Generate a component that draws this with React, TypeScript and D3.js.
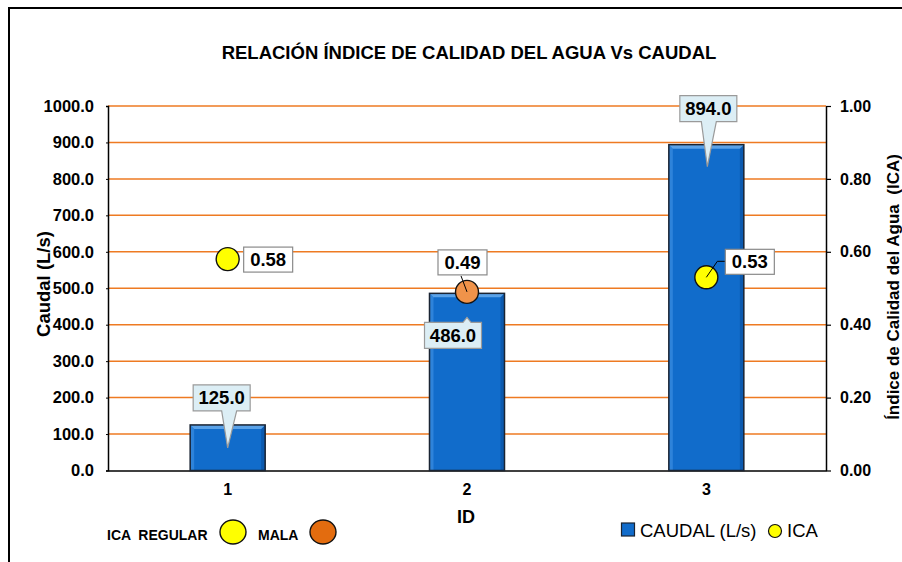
import React from "react";
import * as d3 from "d3";

// chart values
const categories = ["1", "2", "3"];
const caudal = [125.0, 486.0, 894.0];
const ica = [0.58, 0.49, 0.53];
const icaClass = ["REGULAR", "MALA", "REGULAR"];
const leftTicks = [0, 100, 200, 300, 400, 500, 600, 700, 800, 900, 1000];
const rightTicks = [0, 0.2, 0.4, 0.6, 0.8, 1.0];

const FONT = "'Liberation Sans', Arial, sans-serif";
const W = 902,
  H = 562;
const margin = { top: 106, right: 76, bottom: 91.5, left: 108 };

const classColor: Record<string, string> = {
  REGULAR: "#FFFF00",
  MALA: "#F0934A",
};

const App = () => {
  const ref = React.useRef<SVGSVGElement>(null);

  React.useEffect(() => {
    const svg = d3.select(ref.current);
    svg.selectAll("*").remove();

    const x = d3
      .scaleBand()
      .domain(categories)
      .range([margin.left, W - margin.right])
      .paddingInner(0.6866)
      .paddingOuter(0.3433);
    const y = d3
      .scaleLinear()
      .domain([0, 1000])
      .range([H - margin.bottom, margin.top]);
    const y2 = d3
      .scaleLinear()
      .domain([0, 1])
      .range([H - margin.bottom, margin.top]);
    const cx = (c: string) => (x(c) as number) + x.bandwidth() / 2;

    // outer frame
    svg
      .append("rect")
      .attr("x", 9)
      .attr("y", 8)
      .attr("width", 1000)
      .attr("height", 1000)
      .attr("fill", "white")
      .attr("stroke", "#000")
      .attr("stroke-width", 2);

    // title
    svg
      .append("text")
      .attr("x", 469)
      .attr("y", 59)
      .attr("text-anchor", "middle")
      .attr("font-family", FONT)
      .attr("font-weight", "bold")
      .attr("font-size", 18.5)
      .text("RELACIÓN ÍNDICE DE CALIDAD DEL AGUA Vs CAUDAL");

    // gridlines
    svg
      .append("g")
      .selectAll("line")
      .data(leftTicks.filter((d) => d > 0))
      .join("line")
      .attr("x1", margin.left)
      .attr("x2", W - margin.right)
      .attr("y1", (d) => y(d))
      .attr("y2", (d) => y(d))
      .attr("stroke", "#EE7A22")
      .attr("stroke-width", 1.5);

    // left axis
    const gl = svg
      .append("g")
      .attr("transform", `translate(${margin.left},0)`)
      .call(
        d3
          .axisLeft(y)
          .tickValues(leftTicks)
          .tickSize(2)
          .tickPadding(12)
          .tickFormat((d) => d3.format(".1f")(d as number))
      );
    gl.select(".domain").attr("stroke", "#000").attr("stroke-width", 1.5);
    gl.selectAll(".tick line").attr("stroke", "#000");
    gl.selectAll(".tick text")
      .attr("font-family", FONT)
      .attr("font-weight", "bold")
      .attr("font-size", 16.5)
      .attr("fill", "#000");

    // right axis
    const gr = svg
      .append("g")
      .attr("transform", `translate(${W - margin.right},0)`)
      .call(
        d3
          .axisRight(y2)
          .tickValues(rightTicks)
          .tickSize(5)
          .tickSizeOuter(0)
          .tickPadding(9)
          .tickFormat((d) => d3.format(".2f")(d as number))
      );
    gr.select(".domain").attr("stroke", "#000").attr("stroke-width", 1.5);
    gr.selectAll(".tick line").attr("stroke", "#000").attr("stroke-width", 1.2);
    gr.selectAll(".tick text")
      .attr("font-family", FONT)
      .attr("font-weight", "bold")
      .attr("font-size", 16)
      .attr("fill", "#000");

    // bottom axis
    const gb = svg
      .append("g")
      .attr("transform", `translate(0,${H - margin.bottom})`)
      .call(d3.axisBottom(x).tickSize(0).tickPadding(13));
    gb.select(".domain").attr("stroke", "#000").attr("stroke-width", 1.5);
    gb.selectAll(".tick text")
      .attr("font-family", FONT)
      .attr("font-weight", "bold")
      .attr("font-size", 16)
      .attr("fill", "#000");

    // axis titles
    svg
      .append("text")
      .attr("transform", "translate(50,284) rotate(-90)")
      .attr("text-anchor", "middle")
      .attr("font-family", FONT)
      .attr("font-weight", "bold")
      .attr("font-size", 18.5)
      .text("Caudal (L/s)");
    svg
      .append("text")
      .attr("transform", "translate(899,287) rotate(-90)")
      .attr("text-anchor", "middle")
      .attr("font-family", FONT)
      .attr("font-weight", "bold")
      .attr("font-size", 17)
      .attr("xml:space", "preserve")
      .text("Índice de Calidad del Agua  (ICA)");
    svg
      .append("text")
      .attr("x", 466)
      .attr("y", 523)
      .attr("text-anchor", "middle")
      .attr("font-family", FONT)
      .attr("font-weight", "bold")
      .attr("font-size", 18)
      .text("ID");

    // bars with bevel
    const b = 4;
    const bars = svg
      .append("g")
      .selectAll("g")
      .data(categories.map((c, i) => ({ c, v: caudal[i] })))
      .join("g");
    bars.each(function (d) {
      const g = d3.select(this);
      const x0 = x(d.c) as number,
        x1 = x0 + x.bandwidth(),
        y0 = y(d.v),
        yb = y(0);
      g.append("rect")
        .attr("x", x0)
        .attr("y", y0)
        .attr("width", x1 - x0)
        .attr("height", yb - y0)
        .attr("fill", "#116CCB");
      g.append("polygon")
        .attr("points", `${x0},${y0} ${x0 + b},${y0 + b} ${x0 + b},${yb} ${x0},${yb}`)
        .attr("fill", "#2E83DA");
      g.append("polygon")
        .attr("points", `${x1},${y0} ${x1 - b},${y0 + b} ${x1 - b},${yb} ${x1},${yb}`)
        .attr("fill", "#0C5AAF");
      g.append("polygon")
        .attr("points", `${x0},${y0} ${x1},${y0} ${x1 - b},${y0 + b} ${x0 + b},${y0 + b}`)
        .attr("fill", "#5AA2E8");
      g.append("rect")
        .attr("x", x0)
        .attr("y", y0)
        .attr("width", x1 - x0)
        .attr("height", yb - y0)
        .attr("fill", "none")
        .attr("stroke", "#1A2433")
        .attr("stroke-width", 1.5);
    });

    // bar value callouts (box offset from bar top, pointer tip)
    const barLabelLayout = [
      { dx: -6, top: -40, tipDx: 0, tipDy: 23 },
      { dx: -14, top: 29, tipDx: 0, tipDy: 24 },
      { dx: 2, top: -49, tipDx: 1, tipDy: 22 },
    ];
    const bw = 57,
      bh = 26;
    categories.forEach((c, i) => {
      const L = barLabelLayout[i];
      const yt = y(caudal[i]);
      const bcx = cx(c) + L.dx;
      const bx = bcx - bw / 2,
        by = yt + L.top;
      const tipX = cx(c) + L.tipDx;
      let path;
      if (L.top < 0) {
        const tipY = yt + L.tipDy;
        const p0 = tipX - 6,
          p1 = tipX + 9;
        path = `M${bx},${by} H${bx + bw} V${by + bh} H${p1} L${tipX},${tipY} L${p0},${by + bh} H${bx} Z`;
      } else {
        const tipY = by - 5;
        path = `M${bx},${by} H${tipX - 4} L${tipX},${tipY} L${tipX + 4},${by} H${bx + bw} V${by + bh} H${bx} Z`;
      }
      svg
        .append("path")
        .attr("d", path)
        .attr("fill", "#DCEEF5")
        .attr("stroke", "#9A9A9A")
        .attr("stroke-width", 1.2);
      svg
        .append("text")
        .attr("x", bcx)
        .attr("y", by + bh / 2 + 6.5)
        .attr("text-anchor", "middle")
        .attr("font-family", FONT)
        .attr("font-weight", "bold")
        .attr("font-size", 18.5)
        .text(d3.format(".1f")(caudal[i]));
    });

    // ICA points
    svg
      .append("g")
      .selectAll("circle")
      .data(categories.map((c, i) => ({ c, v: ica[i], k: icaClass[i] })))
      .join("circle")
      .attr("cx", (d) => cx(d.c))
      .attr("cy", (d) => y2(d.v))
      .attr("r", 11.5)
      .attr("fill", (d) => classColor[d.k])
      .attr("stroke", "#111")
      .attr("stroke-width", 1.4);

    // ICA labels (box relative to point) and leader lines
    const icaLabelLayout = [
      { bx: 16, by: -12, leader: null as null | number[][] },
      { bx: -29, by: -42, leader: [[0, 0], [-6, -16]] },
      { bx: 19, by: -28, leader: [[0, 0], [11, -16], [19, -16]] },
    ];
    const iw = 49,
      ih = 25;
    categories.forEach((c, i) => {
      const L = icaLabelLayout[i];
      const px = cx(c),
        py = y2(ica[i]);
      if (L.leader) {
        svg
          .append("path")
          .attr("d", d3.line()(L.leader.map(([a, bb]) => [px + a, py + bb]) as [number, number][]))
          .attr("fill", "none")
          .attr("stroke", "#000")
          .attr("stroke-width", 1);
      }
      svg
        .append("rect")
        .attr("x", px + L.bx)
        .attr("y", py + L.by)
        .attr("width", iw)
        .attr("height", ih)
        .attr("fill", "#fff")
        .attr("stroke", "#8A8A8A")
        .attr("stroke-width", 1.2);
      svg
        .append("text")
        .attr("x", px + L.bx + iw / 2)
        .attr("y", py + L.by + ih / 2 + 6.5)
        .attr("text-anchor", "middle")
        .attr("font-family", FONT)
        .attr("font-weight", "bold")
        .attr("font-size", 18.5)
        .text(d3.format(".2f")(ica[i]));
    });

    // class legend (bottom left)
    const lg = svg.append("g").attr("font-family", FONT).attr("font-weight", "bold").attr("font-size", 14);
    lg.append("text").attr("x", 107).attr("y", 540).attr("xml:space", "preserve").text("ICA  REGULAR");
    lg.append("ellipse").attr("cx", 233).attr("cy", 532).attr("rx", 13).attr("ry", 12)
      .attr("fill", "#FFFF00").attr("stroke", "#111").attr("stroke-width", 1.4);
    lg.append("text").attr("x", 258).attr("y", 540).text("MALA");
    lg.append("ellipse").attr("cx", 323).attr("cy", 532).attr("rx", 13).attr("ry", 12)
      .attr("fill", "#E36C0F").attr("stroke", "#111").attr("stroke-width", 1.4);

    // series legend (bottom right)
    const sg = svg.append("g").attr("font-family", FONT).attr("font-size", 18.5);
    sg.append("rect").attr("x", 621.5).attr("y", 523).attr("width", 13).attr("height", 13)
      .attr("fill", "#116CCB").attr("stroke", "#1A2433").attr("stroke-width", 1.2);
    sg.append("text").attr("x", 640).attr("y", 537).text("CAUDAL (L/s)");
    sg.append("circle").attr("cx", 775).attr("cy", 531).attr("r", 6.5)
      .attr("fill", "#FFFF00").attr("stroke", "#111").attr("stroke-width", 1.2);
    sg.append("text").attr("x", 787).attr("y", 537).text("ICA");
  }, []);

  return (
    <svg
      ref={ref}
      width={W}
      height={H}
      style={{ position: "absolute", left: 0, top: 0, background: "#fff" }}
    ></svg>
  );
};

export default App;
